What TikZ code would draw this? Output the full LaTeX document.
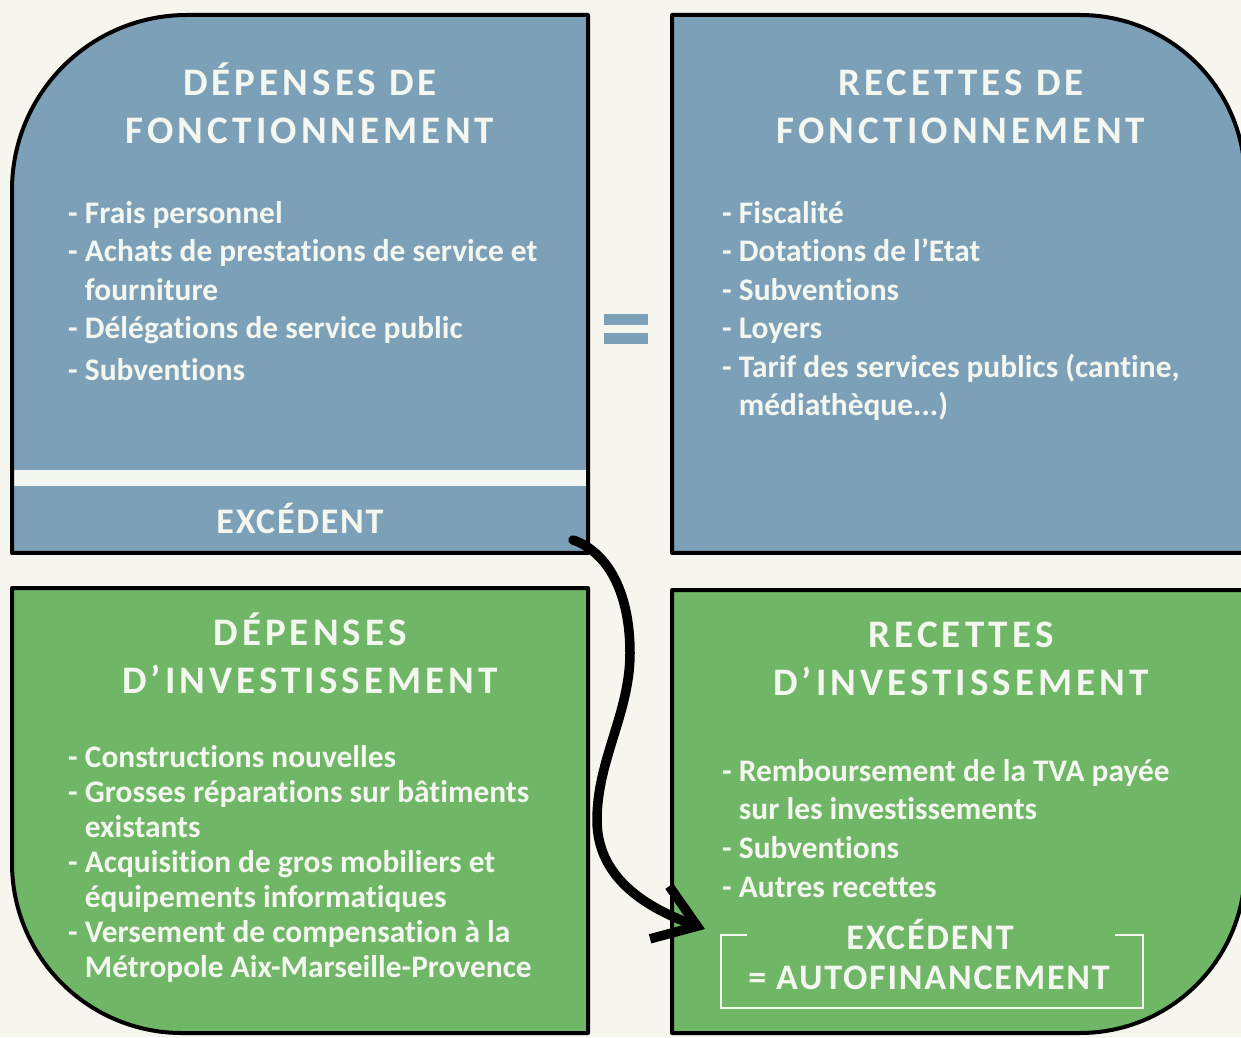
\documentclass[tikz,border=0pt]{standalone}
\usepackage{fontspec}
\setmainfont{Carlito}[Ligatures=NoCommon]
\newfontfamily\titlef{Carlito}[LetterSpace=10.5,Ligatures=NoCommon]
\newfontfamily\excf{Carlito}[LetterSpace=5,Ligatures=NoCommon]
\usetikzlibrary{arrows.meta}
\definecolor{bgc}{HTML}{F6F5EE}
\definecolor{bluec}{HTML}{7BA0B7}
\definecolor{greenc}{HTML}{6FB666}
\definecolor{txtc}{HTML}{F4F7F0}
\tikzset{
  boxline/.style={line width=4pt, draw=black, line join=round},
  ttl/.style={text=txtc, font=\titlef\bfseries\fontsize{39}{48}\selectfont, anchor=base, inner sep=0pt},
  exct/.style={text=txtc, font=\excf\bfseries\fontsize{36}{48}\selectfont, anchor=base, inner sep=0pt},
  lst/.style={text=txtc, font=\bfseries\fontsize{31.4}{38.5}\selectfont, align=left, anchor=north west, inner sep=0pt},
  arr/.style={line width=9.5pt, draw=black, line cap=round, -{Straight Barb[length=40pt,width=56pt]}},
  brk/.style={draw=txtc, line width=2.5pt}
}
\begin{document}
\begin{tikzpicture}[x=1pt,y=1pt]
\useasboundingbox (0,0) rectangle (1241,1037);
\fill[bgc] (0,0) rectangle (1241,1037);
\begin{scope}
\clip (0,0) rectangle (1241,1037);
% top-left box
\fill[bluec] (588,484) -- (12,484) -- (12,847) arc[start angle=180,end angle=90,radius=175] -- (588,1022) -- cycle;
\fill[txtc] (14,551) rectangle (586,567);
\draw[boxline] (588,484) -- (12,484) -- (12,847) arc[start angle=180,end angle=90,radius=175] -- (588,1022) -- cycle;
% top-right box
\draw[boxline, fill=bluec] (672,484) -- (672,1022) -- (1080,1022) arc[start angle=90,end angle=0,radius=165] -- (1245,484) -- cycle;
% bottom-left box
\draw[boxline, fill=greenc] (588,449) -- (12,449) -- (12,174) arc[start angle=180,end angle=270,radius=170] -- (588,4) -- cycle;
% bottom-right box
\draw[boxline, fill=greenc] (672,4) -- (672,447) -- (1245,447) -- (1245,169) arc[start angle=0,end angle=-90,radius=165] -- cycle;
\end{scope}
% equals sign
\fill[bluec] (604,712) rectangle (648,723);
\fill[bluec] (604,693) rectangle (648,704);

% titles
\node[ttl] (t1a) at (310,941) {DÉPENSES DE};
\node[ttl] (t1b) at (310,893) {FONCTIONNEMENT};
\node[ttl] (t2a) at (961,941) {RECETTES DE};
\node[ttl] (t2b) at (961,893) {FONCTIONNEMENT};
\node[ttl] (t3a) at (310,392) {DÉPENSES};
\node[ttl] (t3b) at (310,344) {D’INVESTISSEMENT};
\node[ttl] (t4a) at (961,390) {RECETTES};
\node[ttl] (t4b) at (961,342) {D’INVESTISSEMENT};

% lists
\node[lst] (l1) at (68,836) {- Frais personnel\\
- Achats de prestations de service et\\
\hphantom{- }fourniture\\
- Délégations de service public\\[3pt]
- Subventions};
\node[lst] (l2) at (722,836) {- Fiscalité\\
- Dotations de l’Etat\\
- Subventions\\
- Loyers\\
- Tarif des services publics (cantine,\\
\hphantom{- }médiathèque...)};
\node[lst, font=\bfseries\fontsize{31.4}{35}\selectfont] (l3) at (68,292) {- Constructions nouvelles\\
- Grosses réparations sur bâtiments\\
\hphantom{- }existants\\
- Acquisition de gros mobiliers et\\
\hphantom{- }équipements informatiques\\
- Versement de compensation à la\\
\hphantom{- }Métropole Aix-Marseille-Provence};
\node[lst, font=\bfseries\fontsize{31.4}{38.7}\selectfont] (l4) at (722,278) {- Remboursement de la TVA payée\\
\hphantom{- }sur les investissements\\
- Subventions\\
- Autres recettes};

% excedent top-left
\node[exct] (exc) at (300,503) {EXCÉDENT};

% autofinancement bracket
\node[minimum width=422pt, minimum height=73pt, inner sep=0pt] (autofin) at (932,65.5) {};
\draw[brk] ([xshift=26pt]autofin.north west) -- (autofin.north west) -- (autofin.south west) -- (autofin.south east) -- (autofin.north east) -- ([xshift=-28pt]autofin.north east);
\node[exct] (auto1) at (930,88) {EXCÉDENT};
\node[exct] (auto2) at (929,48) {= AUTOFINANCEMENT};

% arrow
\coordinate (a0) at (573,497);
\coordinate (a1) at (630,384);
\coordinate (a2) at (597,217);
\coordinate (a3) at (705,108);
\draw[arr] (a0) .. controls +(35,-12) and +(0,60) .. (a1) .. controls +(0,-60) and +(0,60) .. (a2) .. controls +(0,-60) and +(-55,20) .. (a3);
\end{tikzpicture}
\end{document}
